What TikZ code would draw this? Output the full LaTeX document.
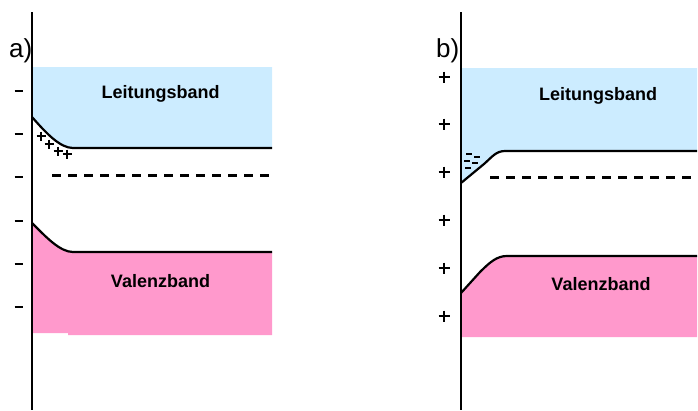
\documentclass[tikz,border=0pt]{standalone}
\usepackage{fontspec}
\setmainfont{Liberation Sans}
\begin{document}
\begin{tikzpicture}[x=1pt,y=-1pt,
  cband/.style={fill=cbfill,draw=none},
  vband/.style={fill=vbfill,draw=none},
  edge/.style={line width=2.2pt,line join=round},
  axisline/.style={line width=2.2pt},
  fermi/.style={line width=2.8pt,dash pattern=on 9pt off 7pt},
  bandlabel/.style={font=\fontsize{18}{20}\selectfont\bfseries,inner sep=0pt},
  panel/.style={font=\fontsize{26}{28}\selectfont,inner sep=0pt,anchor=base west},
  chargeminus/.style={line width=1.3pt},
  chargeplus/.style={line width=2pt},
]
\definecolor{cbfill}{RGB}{204,236,255}
\definecolor{vbfill}{RGB}{255,153,204}
\useasboundingbox (0,0) rectangle (698,410);

% ---------- a) bands bent upward at the surface, holes accumulated
\fill[cband] (32,67) -- (272,67) -- (272,148) -- (73,148)
  .. controls (60,148) and (46,133) .. (32,117) -- cycle;
\fill[vband] (32,223) .. controls (46,237) and (60,252) .. (73,252)
  -- (272,252) -- (272,335) -- (68,335) -- (68,333) -- (32,333) -- cycle;
\draw[edge] (32,117) .. controls (46,133) and (60,148) .. (73,148) -- (272,148);
\draw[edge] (32,223) .. controls (46,237) and (60,252) .. (73,252) -- (272,252);
\draw[fermi] (52,175.5) -- (272,175.5);
\draw[axisline] (32,12) -- (32,410);
% surface charges on the left
\foreach \yy in {91,134,177,221,264,307}
  \draw[chargeminus] (14.5,\yy) -- (23,\yy);
% holes near the surface
\foreach \px/\py in {41/136,49/144,58/151,67/154}
  \draw[line width=1.7pt] (\px-4.5,\py) -- (\px+4.5,\py) (\px,\py-4.5) -- (\px,\py+4.5);
\node[bandlabel] (lba) at (160.5,94) {Leitungsband};
\node[bandlabel] (vba) at (160.5,281) {Valenzband};
\node[panel] (la) at (9,57) {a)};

% ---------- b) bands bent downward at the surface, electrons accumulated
\fill[cband] (461,68) -- (697,68) -- (697,151) -- (505,151)
  .. controls (496,151) and (492,157) .. (484,164)
  -- (461,183) -- cycle;
\fill[vband] (461,293) -- (480,272) .. controls (490,262) and (497,256) .. (507,256)
  -- (697,256) -- (697,337) -- (461,337) -- cycle;
\draw[edge] (461,183) -- (484,164) .. controls (492,157) and (496,151) .. (505,151) -- (697,151);
\draw[edge] (461,293) -- (480,272) .. controls (490,262) and (497,256) .. (507,256) -- (697,256);
\draw[fermi] (490,177.5) -- (697,177.5);
\draw[axisline] (461,12) -- (461,410);
% accumulated electrons
\foreach \ax/\ay in {466/154,474/157,464/161,472/163,465/168}
  \draw[chargeminus] (\ax,\ay) -- (\ax+6,\ay);
% surface charges on the left
\foreach \yy in {77,124,172,220,268,316}
  \draw[chargeplus] (438.5,\yy) -- (449.5,\yy) (444,\yy-5.5) -- (444,\yy+5.5);
\node[bandlabel] (lbb) at (598,96) {Leitungsband};
\node[bandlabel] (vbb) at (601,284) {Valenzband};
\node[panel] (lb) at (436,57) {b)};
\end{tikzpicture}
\end{document}
